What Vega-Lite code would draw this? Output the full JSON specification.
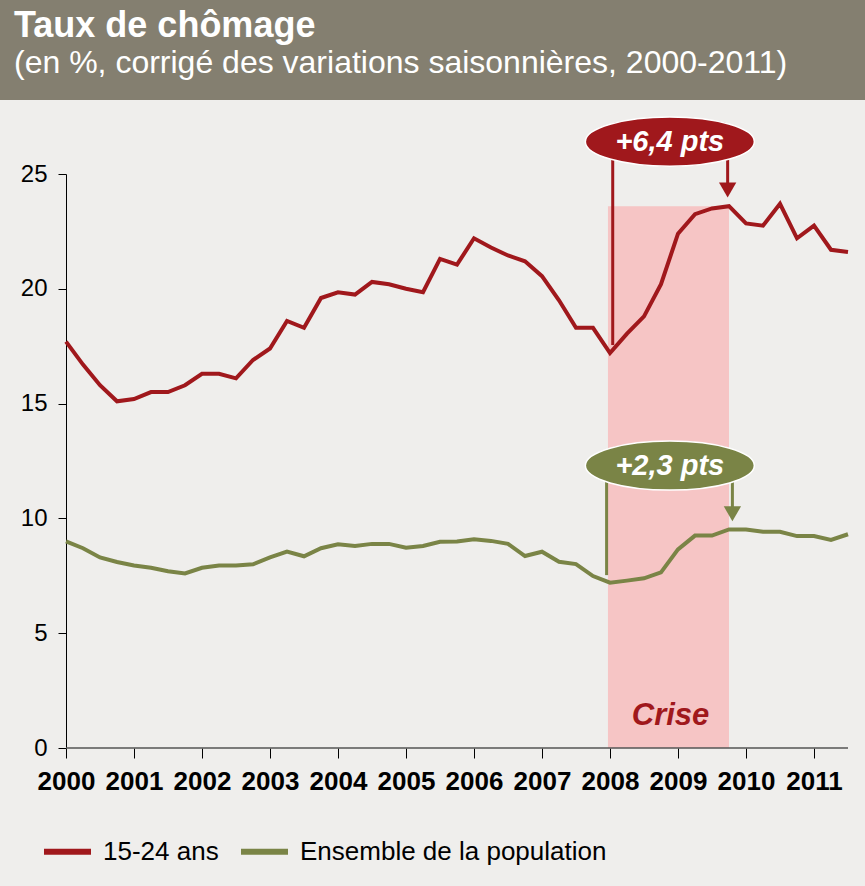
{
  "$schema": "https://vega.github.io/schema/vega-lite/v6.json",
  "background": "#efeeec",
  "padding": 0,
  "spacing": 14,
  "config": {
    "font": "Liberation Sans",
    "view": {"stroke": null}
  },
  "datasets": {
    "series": [
      {"t": 2000.00, "serie": "15-24 ans", "v": 17.7},
      {"t": 2000.25, "serie": "15-24 ans", "v": 16.7},
      {"t": 2000.50, "serie": "15-24 ans", "v": 15.8},
      {"t": 2000.75, "serie": "15-24 ans", "v": 15.1},
      {"t": 2001.00, "serie": "15-24 ans", "v": 15.2},
      {"t": 2001.25, "serie": "15-24 ans", "v": 15.5},
      {"t": 2001.50, "serie": "15-24 ans", "v": 15.5},
      {"t": 2001.75, "serie": "15-24 ans", "v": 15.8},
      {"t": 2002.00, "serie": "15-24 ans", "v": 16.3},
      {"t": 2002.25, "serie": "15-24 ans", "v": 16.3},
      {"t": 2002.50, "serie": "15-24 ans", "v": 16.1},
      {"t": 2002.75, "serie": "15-24 ans", "v": 16.9},
      {"t": 2003.00, "serie": "15-24 ans", "v": 17.4},
      {"t": 2003.25, "serie": "15-24 ans", "v": 18.6},
      {"t": 2003.50, "serie": "15-24 ans", "v": 18.3},
      {"t": 2003.75, "serie": "15-24 ans", "v": 19.6},
      {"t": 2004.00, "serie": "15-24 ans", "v": 19.85},
      {"t": 2004.25, "serie": "15-24 ans", "v": 19.75},
      {"t": 2004.50, "serie": "15-24 ans", "v": 20.3},
      {"t": 2004.75, "serie": "15-24 ans", "v": 20.2},
      {"t": 2005.00, "serie": "15-24 ans", "v": 20.0},
      {"t": 2005.25, "serie": "15-24 ans", "v": 19.85},
      {"t": 2005.50, "serie": "15-24 ans", "v": 21.3},
      {"t": 2005.75, "serie": "15-24 ans", "v": 21.05},
      {"t": 2006.00, "serie": "15-24 ans", "v": 22.2},
      {"t": 2006.25, "serie": "15-24 ans", "v": 21.8},
      {"t": 2006.50, "serie": "15-24 ans", "v": 21.45},
      {"t": 2006.75, "serie": "15-24 ans", "v": 21.2},
      {"t": 2007.00, "serie": "15-24 ans", "v": 20.55},
      {"t": 2007.25, "serie": "15-24 ans", "v": 19.5},
      {"t": 2007.50, "serie": "15-24 ans", "v": 18.3},
      {"t": 2007.75, "serie": "15-24 ans", "v": 18.3},
      {"t": 2008.00, "serie": "15-24 ans", "v": 17.2},
      {"t": 2008.25, "serie": "15-24 ans", "v": 18.05},
      {"t": 2008.50, "serie": "15-24 ans", "v": 18.8},
      {"t": 2008.75, "serie": "15-24 ans", "v": 20.2},
      {"t": 2009.00, "serie": "15-24 ans", "v": 22.4},
      {"t": 2009.25, "serie": "15-24 ans", "v": 23.25},
      {"t": 2009.50, "serie": "15-24 ans", "v": 23.5},
      {"t": 2009.75, "serie": "15-24 ans", "v": 23.6},
      {"t": 2010.00, "serie": "15-24 ans", "v": 22.85},
      {"t": 2010.25, "serie": "15-24 ans", "v": 22.75},
      {"t": 2010.50, "serie": "15-24 ans", "v": 23.7},
      {"t": 2010.75, "serie": "15-24 ans", "v": 22.2},
      {"t": 2011.00, "serie": "15-24 ans", "v": 22.75},
      {"t": 2011.25, "serie": "15-24 ans", "v": 21.7},
      {"t": 2011.50, "serie": "15-24 ans", "v": 21.6},
      {"t": 2000.00, "serie": "Ensemble de la population", "v": 9.0},
      {"t": 2000.25, "serie": "Ensemble de la population", "v": 8.7},
      {"t": 2000.50, "serie": "Ensemble de la population", "v": 8.3},
      {"t": 2000.75, "serie": "Ensemble de la population", "v": 8.1},
      {"t": 2001.00, "serie": "Ensemble de la population", "v": 7.95},
      {"t": 2001.25, "serie": "Ensemble de la population", "v": 7.85},
      {"t": 2001.50, "serie": "Ensemble de la population", "v": 7.7},
      {"t": 2001.75, "serie": "Ensemble de la population", "v": 7.6},
      {"t": 2002.00, "serie": "Ensemble de la population", "v": 7.85},
      {"t": 2002.25, "serie": "Ensemble de la population", "v": 7.95},
      {"t": 2002.50, "serie": "Ensemble de la population", "v": 7.95},
      {"t": 2002.75, "serie": "Ensemble de la population", "v": 8.0},
      {"t": 2003.00, "serie": "Ensemble de la population", "v": 8.3},
      {"t": 2003.25, "serie": "Ensemble de la population", "v": 8.55},
      {"t": 2003.50, "serie": "Ensemble de la population", "v": 8.35},
      {"t": 2003.75, "serie": "Ensemble de la population", "v": 8.7},
      {"t": 2004.00, "serie": "Ensemble de la population", "v": 8.87},
      {"t": 2004.25, "serie": "Ensemble de la population", "v": 8.8},
      {"t": 2004.50, "serie": "Ensemble de la population", "v": 8.89},
      {"t": 2004.75, "serie": "Ensemble de la population", "v": 8.89},
      {"t": 2005.00, "serie": "Ensemble de la population", "v": 8.72},
      {"t": 2005.25, "serie": "Ensemble de la population", "v": 8.8},
      {"t": 2005.50, "serie": "Ensemble de la population", "v": 8.98},
      {"t": 2005.75, "serie": "Ensemble de la population", "v": 8.99},
      {"t": 2006.00, "serie": "Ensemble de la population", "v": 9.09},
      {"t": 2006.25, "serie": "Ensemble de la population", "v": 9.02},
      {"t": 2006.50, "serie": "Ensemble de la population", "v": 8.89},
      {"t": 2006.75, "serie": "Ensemble de la population", "v": 8.36},
      {"t": 2007.00, "serie": "Ensemble de la population", "v": 8.55},
      {"t": 2007.25, "serie": "Ensemble de la population", "v": 8.11},
      {"t": 2007.50, "serie": "Ensemble de la population", "v": 8.01},
      {"t": 2007.75, "serie": "Ensemble de la population", "v": 7.49},
      {"t": 2008.00, "serie": "Ensemble de la population", "v": 7.2},
      {"t": 2008.25, "serie": "Ensemble de la population", "v": 7.29},
      {"t": 2008.50, "serie": "Ensemble de la population", "v": 7.39},
      {"t": 2008.75, "serie": "Ensemble de la population", "v": 7.65},
      {"t": 2009.00, "serie": "Ensemble de la population", "v": 8.65},
      {"t": 2009.25, "serie": "Ensemble de la population", "v": 9.25},
      {"t": 2009.50, "serie": "Ensemble de la population", "v": 9.25},
      {"t": 2009.75, "serie": "Ensemble de la population", "v": 9.52},
      {"t": 2010.00, "serie": "Ensemble de la population", "v": 9.52},
      {"t": 2010.25, "serie": "Ensemble de la population", "v": 9.42},
      {"t": 2010.50, "serie": "Ensemble de la population", "v": 9.42},
      {"t": 2010.75, "serie": "Ensemble de la population", "v": 9.23},
      {"t": 2011.00, "serie": "Ensemble de la population", "v": 9.23},
      {"t": 2011.25, "serie": "Ensemble de la population", "v": 9.06},
      {"t": 2011.50, "serie": "Ensemble de la population", "v": 9.31}
    ],
    "crise": [{"debut": 2007.97, "fin": 2009.75, "bas": 0, "haut": 23.6, "label": "Crise", "tx": 2008.89, "ty": 1.0}],
    "axe": [{"debut": 2000, "fin": 2011.5, "y": 0}],
    "traits": [
      {"serie": "15-24 ans", "x": 2008.04, "y": 26.4, "y2": 17.55},
      {"serie": "15-24 ans", "x": 2009.73, "y": 26.4, "y2": 24.5},
      {"serie": "Ensemble de la population", "x": 2007.95, "y": 12.3, "y2": 7.53},
      {"serie": "Ensemble de la population", "x": 2009.8, "y": 12.3, "y2": 10.4}
    ],
    "fleches": [
      {"serie": "15-24 ans", "x": 2009.73, "y": 24.3},
      {"serie": "Ensemble de la population", "x": 2009.8, "y": 10.2}
    ],
    "bulles": [
      {"serie": "15-24 ans", "x": 2008.88, "y": 26.41, "label": "+6,4 pts"},
      {"serie": "Ensemble de la population", "x": 2008.88, "y": 12.3, "label": "+2,3 pts"}
    ]
  },
  "vconcat": [
    {
      "width": 865,
      "height": 100,
      "view": {"fill": "#847f70", "stroke": null},
      "title": {
        "text": "Taux de chômage",
        "subtitle": "(en %, corrigé des variations saisonnières, 2000-2011)",
        "anchor": "start",
        "frame": "group",
        "orient": "top",
        "offset": -80,
        "dx": 14,
        "color": "white",
        "subtitleColor": "white",
        "font": "Liberation Sans",
        "subtitleFont": "Liberation Sans",
        "fontSize": 36,
        "fontWeight": "bold",
        "subtitleFontSize": 32,
        "subtitleFontWeight": "normal",
        "subtitlePadding": 3
      },
      "data": {"values": [{}]},
      "mark": {"type": "point", "opacity": 0},
      "encoding": {}
    },
    {
      "width": 848,
      "height": 574,
      "layer": [
        {
          "data": {"name": "crise"},
          "mark": {"type": "rect", "color": "#f6c5c5"},
          "encoding": {
            "x": {
              "field": "debut", "type": "quantitative",
              "scale": {"domain": [1999.029412, 2011.5], "nice": false, "zero": false},
              "axis": {
                "title": null,
                "values": [2000, 2000.25, 2000.5, 2000.75, 2001, 2001.25, 2001.5, 2001.75, 2002, 2002.25, 2002.5, 2002.75, 2003, 2003.25, 2003.5, 2003.75, 2004, 2004.25, 2004.5, 2004.75, 2005, 2005.25, 2005.5, 2005.75, 2006, 2006.25, 2006.5, 2006.75, 2007, 2007.25, 2007.5, 2007.75, 2008, 2008.25, 2008.5, 2008.75, 2009, 2009.25, 2009.5, 2009.75, 2010, 2010.25, 2010.5, 2010.75, 2011, 2011.25, 2011.5],
                "labelExpr": "datum.value % 1 === 0 ? datum.value : ''",
                "grid": false,
                "domain": false,
                "tickColor": "black",
                "tickSize": 10,
                "tickWidth": 1,
                "labelFontSize": 26,
                "labelFontWeight": "bold",
                "labelColor": "black",
                "labelPadding": 10,
                "labelOverlap": false,
                "labelFlush": false,
                "labelBound": false,
                "minExtent": 138
              }
            },
            "x2": {"field": "fin"},
            "y": {
              "field": "bas", "type": "quantitative",
              "scale": {"domain": [0, 25], "nice": false},
              "axis": {
                "title": null,
                "values": [0, 5, 10, 15, 20, 25],
                "grid": false,
                "offset": -66,
                "domainColor": "black",
                "domainWidth": 1,
                "tickColor": "black",
                "tickSize": 8,
                "labelFontSize": 24,
                "labelColor": "black",
                "labelPadding": 11,
                "minExtent": 66
              }
            },
            "y2": {"field": "haut"}
          }
        },
        {
          "data": {"name": "axe"},
          "mark": {"type": "rule", "color": "#555555", "strokeWidth": 1.5},
          "encoding": {
            "x": {"field": "debut", "type": "quantitative"},
            "x2": {"field": "fin"},
            "y": {"field": "y", "type": "quantitative"}
          }
        },
        {
          "data": {"name": "crise"},
          "mark": {"type": "text", "color": "#a0181c", "fontSize": 31, "fontWeight": "bold", "fontStyle": "italic", "align": "center", "baseline": "alphabetic"},
          "encoding": {
            "x": {"field": "tx", "type": "quantitative"},
            "y": {"field": "ty", "type": "quantitative"},
            "text": {"field": "label"}
          }
        },
        {
          "data": {"name": "traits"},
          "mark": {"type": "rule", "strokeWidth": 3},
          "encoding": {
            "x": {"field": "x", "type": "quantitative"},
            "y": {"field": "y", "type": "quantitative"},
            "y2": {"field": "y2"},
            "color": {"field": "serie", "type": "nominal"}
          }
        },
        {
          "data": {"name": "series"},
          "mark": {"type": "line", "strokeWidth": 4, "strokeJoin": "miter"},
          "encoding": {
            "x": {"field": "t", "type": "quantitative"},
            "y": {"field": "v", "type": "quantitative"},
            "color": {
              "field": "serie", "type": "nominal",
              "scale": {"domain": ["15-24 ans", "Ensemble de la population"], "range": ["#a0181c", "#7a8446"]},
              "legend": {
                "orient": "none",
                "legendX": 41,
                "legendY": 825,
                "direction": "horizontal",
                "title": null,
                "padding": 0,
                "labelFontSize": 26,
                "labelColor": "black",
                "labelLimit": 500,
                "symbolType": "stroke",
                "symbolSize": 2209,
                "symbolStrokeWidth": 6,
                "symbolOpacity": 1,
                "labelOffset": 9,
                "columnPadding": 10
              }
            }
          }
        },
        {
          "data": {"name": "fleches"},
          "mark": {"type": "point", "shape": "triangle-down", "size": 300, "filled": true, "opacity": 1},
          "encoding": {
            "x": {"field": "x", "type": "quantitative"},
            "y": {"field": "y", "type": "quantitative"},
            "color": {"field": "serie", "type": "nominal"}
          }
        },
        {
          "data": {"name": "bulles"},
          "mark": {"type": "point", "shape": "M-1,0A1,0.29,0,1,0,1,0A1,0.29,0,1,0,-1,0Z", "size": 28561, "filled": true, "opacity": 1, "stroke": "white", "strokeWidth": 1.5},
          "encoding": {
            "x": {"field": "x", "type": "quantitative"},
            "y": {"field": "y", "type": "quantitative"},
            "color": {"field": "serie", "type": "nominal"}
          }
        },
        {
          "data": {"name": "bulles"},
          "mark": {"type": "text", "color": "white", "fontSize": 29, "fontWeight": "bold", "fontStyle": "italic", "align": "center", "baseline": "middle"},
          "encoding": {
            "x": {"field": "x", "type": "quantitative"},
            "y": {"field": "y", "type": "quantitative"},
            "text": {"field": "label"}
          }
        }
      ]
    }
  ]
}
